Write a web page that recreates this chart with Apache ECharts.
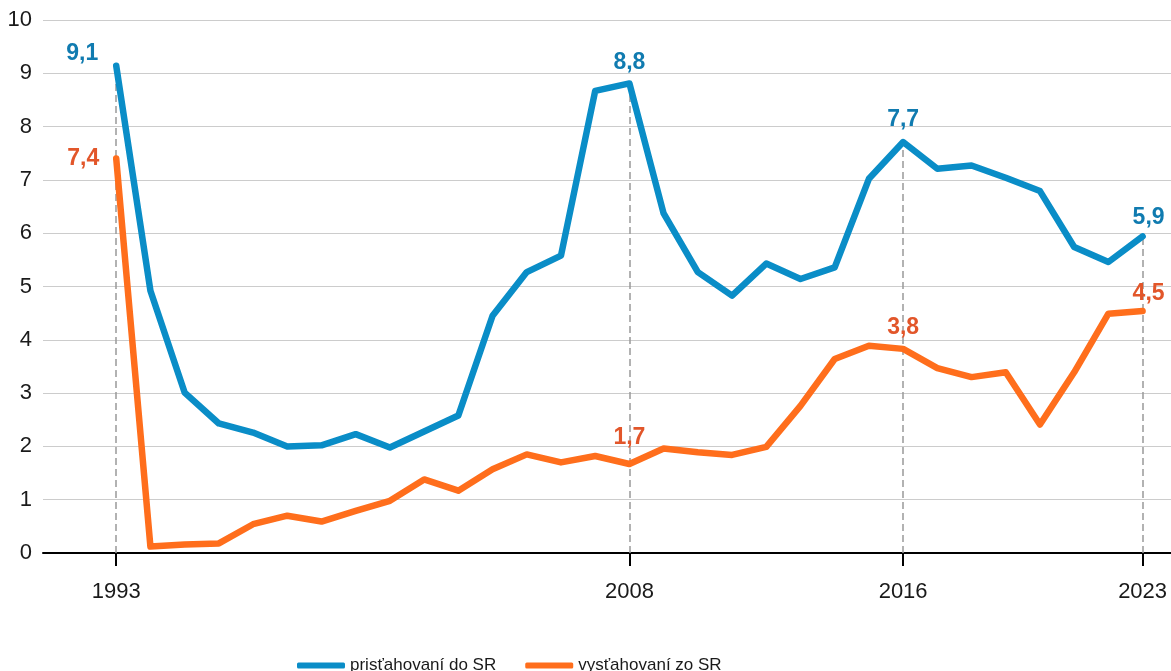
<!DOCTYPE html>
<html>
<head>
<meta charset="utf-8">
<script src="https://cdn.jsdelivr.net/npm/echarts@6/dist/echarts.min.js"></script>
<style>
html,body{margin:0;padding:0;background:#fff;}
#chart{width:1171px;height:671px;}
</style>
</head>
<body>
<div id="chart"></div>
<script>
const years = [1993,1994,1995,1996,1997,1998,1999,2000,2001,2002,2003,2004,2005,2006,2007,2008,2009,2010,2011,2012,2013,2014,2015,2016,2017,2018,2019,2020,2021,2022,2023];
const immigrants = [9.14,4.92,3.01,2.43,2.26,2.00,2.02,2.23,1.98,2.28,2.58,4.45,5.27,5.58,8.67,8.81,6.37,5.27,4.83,5.43,5.14,5.36,7.02,7.71,7.21,7.27,7.04,6.79,5.74,5.46,5.94];
const emigrants = [7.40,0.12,0.16,0.18,0.54,0.70,0.59,0.79,0.98,1.38,1.17,1.57,1.85,1.70,1.82,1.67,1.96,1.89,1.84,1.99,2.76,3.64,3.89,3.83,3.47,3.30,3.39,2.41,3.39,4.49,4.54];
const tickYears = [1993,2008,2016,2023];
const seriesNames = ['prisťahovaní do SR','vysťahovaní zo SR'];

const blueLine = '#0a8dc7', blueText = '#107bb0';
const orangeLine = '#ff6e1c', orangeText = '#e2562a';

const fmt = v => v.toFixed(1).replace('.', ',');

// per-label placement (style only)
const blueLabelStyle = {
  1993: {position:'top', distance:0, offset:[-34,0]},
  2008: {position:'top', distance:8},
  2016: {position:'top', distance:10},
  2023: {position:'top', distance:6, offset:[6,0]}
};
const orangeLabelStyle = {
  1993: {position:'left', distance:16},
  2008: {position:'top', distance:14},
  2016: {position:'top', distance:9},
  2023: {position:'top', distance:5, offset:[6,0]}
};

function buildData(vals, styles, color) {
  return years.map((y, i) => {
    const item = {value: [y, vals[i]]};
    if (styles[y]) {
      item.label = Object.assign({
        show: true,
        formatter: p => fmt(p.value[1]),
        color: color,
        fontSize: 23,
        fontWeight: 'bold',
        fontFamily: 'Liberation Sans, Arial, sans-serif'
      }, styles[y]);
    }
    return item;
  });
}

const dashData = tickYears.map(y => {
  const i = years.indexOf(y);
  return [{coord: [y, 0]}, {coord: [y, Math.max(immigrants[i], emigrants[i])]}];
});

const chart = echarts.init(document.getElementById('chart'), null, {renderer: 'canvas'});
chart.setOption({
  animation: false,
  backgroundColor: '#fff',
  textStyle: {fontFamily: 'Liberation Sans, Arial, sans-serif'},
  grid: {left: 43, right: 0, top: 20, bottom: 118},
  legend: {
    left: 292, top: 652,
    icon: 'roundRect',
    itemWidth: 48, itemHeight: 6, itemGap: 29,
    textStyle: {fontSize: 17, color: '#1a1a1a', fontFamily: 'Liberation Sans, Arial, sans-serif'},
    data: seriesNames
  },
  xAxis: {
    type: 'value',
    min: 1990.86, max: 2023.83,
    splitLine: {show: false},
    axisLine: {show: true, onZero: false, lineStyle: {color: '#000', width: 2}},
    axisTick: {show: true, customValues: tickYears, length: 13, lineStyle: {color: '#000', width: 2}},
    axisLabel: {show: true, customValues: tickYears, margin: 28, fontSize: 22, color: '#1a1a1a', formatter: v => String(v)}
  },
  yAxis: {
    type: 'value',
    min: 0, max: 10, interval: 1,
    axisLine: {show: false},
    axisTick: {show: false},
    axisLabel: {margin: 11, fontSize: 22, color: '#1a1a1a'},
    splitLine: {show: true, lineStyle: {color: '#cccccc', width: 1}}
  },
  series: [
    {
      name: seriesNames[0],
      type: 'line',
      data: buildData(immigrants, blueLabelStyle, blueText),
      color: blueLine,
      showSymbol: true,
      symbol: 'circle',
      symbolSize: 2,
      itemStyle: {color: blueLine},
      z: 3,
      lineStyle: {width: 6.5, color: blueLine, cap: 'round', join: 'round'},
      markLine: {
        silent: true,
        symbol: ['none','none'],
        z: 1,
        label: {show: false},
        lineStyle: {color: '#999', type: [7,4], width: 1.5},
        data: dashData
      }
    },
    {
      name: seriesNames[1],
      type: 'line',
      data: buildData(emigrants, orangeLabelStyle, orangeText),
      color: orangeLine,
      showSymbol: true,
      symbol: 'circle',
      symbolSize: 2,
      itemStyle: {color: orangeLine},
      z: 4,
      lineStyle: {width: 6.5, color: orangeLine, cap: 'round', join: 'round'}
    }
  ]
});
</script>
</body>
</html>
